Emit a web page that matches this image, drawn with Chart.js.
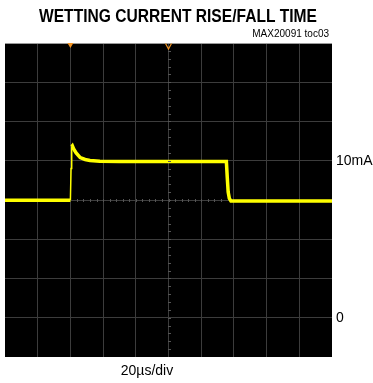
<!DOCTYPE html>
<html>
<head>
<meta charset="utf-8">
<script src="https://cdn.jsdelivr.net/npm/chart.js@4/dist/chart.umd.min.js"></script>
<style>
  html, body { margin: 0; padding: 0; background: #fff; }
  #wrap { width: 373px; height: 383px; }
</style>
</head>
<body>
<div id="wrap"><canvas id="c" width="373" height="383"></canvas></div>
<script>
// Wetting current trace (mA) against time (µs), 20 µs per division
const timeUs = [0, 40.0, 40.4, 40.8, 41.2, 42.0, 43.5, 46.0, 49.0, 52.0, 58.0, 70.0, 100.0, 135.4, 135.9, 136.5, 137.2, 138.2, 160.0, 200.0];
const currentMa = [7.48, 7.48, 9.5, 10.9, 10.95, 10.75, 10.5, 10.2, 10.08, 10.02, 9.97, 9.96, 9.96, 9.95, 9.0, 8.0, 7.6, 7.43, 7.43, 7.43];

// Screen scales: 10 horizontal divisions, 8 vertical divisions at 2.5 mA/div
const xTicksUs = [0, 20, 40, 60, 80, 100, 120, 140, 160, 180, 200];
const yTicksMa = [-2.5, 0, 2.5, 5, 7.5, 10, 12.5, 15, 17.5];
const yLabels = { "0": "0", "10": "10mA" };
const triggerUs = 40;
const centerUs = 100;
const centerMa = 7.5;

const titleText = "WETTING CURRENT RISE/FALL TIME";
const noteText = "MAX20091 toc03";
const scaleText = "20µs/div";

const GRID = "#3c3c3c";
const ORANGE = "#f39423";

const scopeDecor = {
  id: "scopeDecor",
  beforeDraw(chart) {
    const { ctx, chartArea: a } = chart;
    ctx.save();
    ctx.fillStyle = "#000";
    ctx.fillRect(a.left, a.top, a.right - a.left, a.bottom - a.top);
    ctx.restore();
  },
  afterDatasetsDraw(chart) {
    const { ctx, chartArea: a, scales } = chart;
    const xs = scales.x, ys = scales.y;
    ctx.save();
    // minor ticks along the centre cross
    const cx = Math.round(xs.getPixelForValue(centerUs)) + 0.5;
    const cy = Math.round(ys.getPixelForValue(centerMa)) + 0.5;
    ctx.strokeStyle = "#555";
    ctx.lineWidth = 1;
    const dy = (ys.getPixelForValue(0) - ys.getPixelForValue(2.5)) / 5;
    for (let y = a.top + dy; y < a.bottom; y += dy) {
      ctx.beginPath(); ctx.moveTo(cx - 1.5, Math.round(y) + 0.5); ctx.lineTo(cx + 1.5, Math.round(y) + 0.5); ctx.stroke();
    }
    const dx = (xs.getPixelForValue(20) - xs.getPixelForValue(0)) / 5;
    for (let x = a.left + dx; x < a.right; x += dx) {
      if (x > xs.getPixelForValue(triggerUs) && x < xs.getPixelForValue(135)) {
        ctx.beginPath(); ctx.moveTo(Math.round(x) + 0.5, cy - 1.5); ctx.lineTo(Math.round(x) + 0.5, cy + 1.5); ctx.stroke();
      }
    }
    // trigger marker and centre marker on the top edge
    const tx = xs.getPixelForValue(triggerUs);
    ctx.fillStyle = ORANGE;
    ctx.beginPath();
    ctx.moveTo(tx - 3, a.top); ctx.lineTo(tx + 3, a.top); ctx.lineTo(tx, a.top + 5); ctx.closePath(); ctx.fill();
    const mx = xs.getPixelForValue(centerUs);
    ctx.strokeStyle = ORANGE;
    ctx.lineWidth = 1.2;
    ctx.beginPath();
    ctx.moveTo(mx - 3, a.top + 0.5); ctx.lineTo(mx, a.top + 6); ctx.lineTo(mx + 3, a.top + 0.5); ctx.stroke();
    ctx.restore();
  },
  afterDraw(chart) {
    const { ctx } = chart;
    ctx.save();
    ctx.fillStyle = "#000";
    // title, condensed bold
    ctx.font = "bold 19px 'Liberation Sans', Arial, sans-serif";
    ctx.textBaseline = "alphabetic";
    ctx.textAlign = "left";
    const w = ctx.measureText(titleText).width;
    const targetW = 278;
    ctx.save();
    ctx.translate(39, 22);
    ctx.scale(targetW / w, 1);
    ctx.fillText(titleText, 0, 0);
    ctx.restore();
    // note at top right
    ctx.font = "10px 'Liberation Sans', Arial, sans-serif";
    ctx.textAlign = "right";
    ctx.fillText(noteText, 329, 37);
    // time base
    ctx.font = "14px 'Liberation Sans', Arial, sans-serif";
    ctx.textAlign = "center";
    ctx.fillText(scaleText, 147, 375);
    ctx.restore();
  }
};

const steep = (ctx) => Math.abs(ctx.p1.parsed.y - ctx.p0.parsed.y) / Math.max(0.01, Math.abs(ctx.p1.parsed.x - ctx.p0.parsed.x)) > 2 ? 1.5 : undefined;

new Chart(document.getElementById("c"), {
  type: "line",
  data: {
    datasets: [{
      data: timeUs.map((t, i) => ({ x: t, y: currentMa[i] })),
      borderColor: "#ffff00",
      borderWidth: 3.5,
      pointRadius: 0,
      tension: 0,
      segment: { borderWidth: steep }
    }]
  },
  options: {
    responsive: false,
    devicePixelRatio: 1,
    animation: false,
    layout: { padding: { top: 43, left: 5, bottom: 26, right: 0 } },
    plugins: { legend: { display: false }, tooltip: { enabled: false }, title: { display: false } },
    scales: {
      x: {
        type: "linear",
        min: 0, max: 200,
        afterBuildTicks: (s) => { s.ticks = xTicksUs.map(v => ({ value: v })); },
        ticks: { display: false },
        grid: {
          color: (c) => (c.tick && (c.tick.value === 0 || c.tick.value === 200)) ? "rgba(0,0,0,0)" : GRID,
          drawTicks: false, lineWidth: 1
        },
        border: { display: false },
        afterFit: (s) => { s.height = 0; }
      },
      y: {
        type: "linear",
        position: "right",
        min: -2.5, max: 17.5,
        afterBuildTicks: (s) => { s.ticks = yTicksMa.map(v => ({ value: v })); },
        ticks: {
          callback: (v) => yLabels[String(v)] || "",
          color: "#000",
          padding: 4,
          font: { family: "'Liberation Sans', Arial, sans-serif", size: 14 }
        },
        grid: {
          color: (c) => {
            if (!c.tick) return GRID;
            if (c.tick.value === 17.5) return "#9a9a9a";
            if (c.tick.value === -2.5) return "rgba(0,0,0,0)";
            return GRID;
          },
          drawTicks: false, lineWidth: 1
        },
        border: { display: false },
        afterFit: (s) => { s.width = 41; }
      }
    }
  },
  plugins: [scopeDecor]
});
</script>
</body>
</html>
